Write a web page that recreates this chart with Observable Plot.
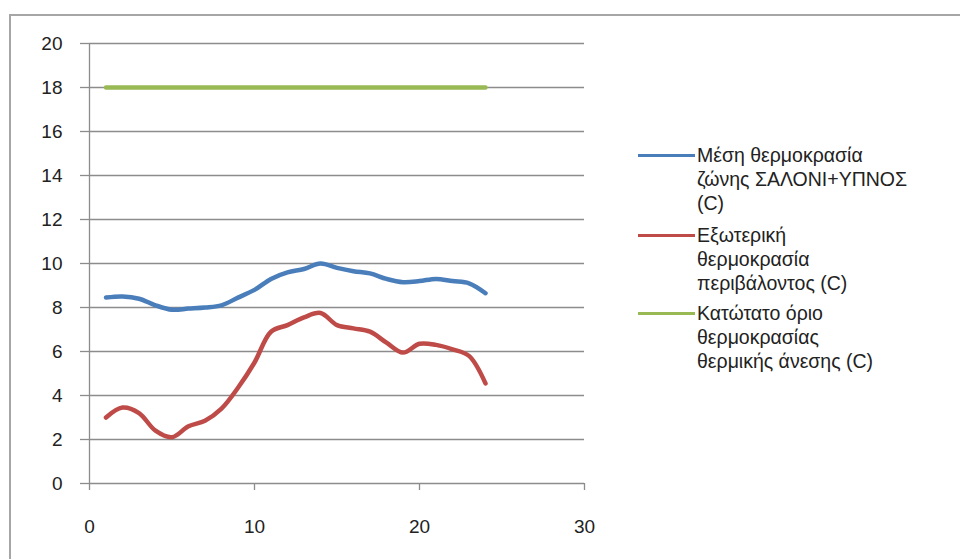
<!DOCTYPE html>
<html>
<head>
<meta charset="utf-8">
<script src="https://cdn.jsdelivr.net/npm/d3@7"></script>
<script src="https://cdn.jsdelivr.net/npm/@observablehq/plot@0.6"></script>
<style>
  html, body { margin: 0; padding: 0; background: #fff; }
  #wrap { position: relative; width: 960px; height: 559px; overflow: hidden; font-family: "Liberation Sans", sans-serif; }
  #frame { position: absolute; left: 9px; top: 14px; width: 980px; height: 600px;
           border-left: 2px solid #a6a6a6; border-top: 2px solid #a6a6a6; box-sizing: border-box; }
  #chart { position: absolute; left: 0; top: 0; }
  .legend-item { position: absolute; left: 638px; }
  .legend-item .swatch { position: absolute; left: 0; top: 11px; width: 57px; height: 3px; }
  .legend-item .label { position: absolute; left: 59px; top: 0; width: 300px;
                        font-size: 19.5px; line-height: 24px; color: #222; white-space: nowrap; }
</style>
</head>
<body>
<div id="wrap">
  <div id="frame"></div>
  <div id="chart"></div>
</div>
<script>
// Hour of the day
const hours = [1, 2, 3, 4, 5, 6, 7, 8, 9, 10, 11, 12, 13, 14, 15, 16, 17, 18, 19, 20, 21, 22, 23, 24];

// Average zone temperature, living room + bedroom (°C)
const zoneTemp = [8.45, 8.5, 8.4, 8.1, 7.9, 7.95, 8.0, 8.1, 8.45, 8.8, 9.3, 9.6,
                  9.75, 10.0, 9.8, 9.65, 9.55, 9.3, 9.15, 9.2, 9.3, 9.2, 9.1, 8.65];

// Outdoor ambient temperature (°C)
const outdoorTemp = [3.0, 3.45, 3.2, 2.4, 2.1, 2.6, 2.85, 3.4, 4.35, 5.5, 6.9, 7.2,
                     7.55, 7.75, 7.2, 7.05, 6.9, 6.4, 5.95, 6.35, 6.3, 6.1, 5.8, 4.55];

// Lower limit of thermal comfort (°C)
const comfortLimit = [18, 18, 18, 18, 18, 18, 18, 18, 18, 18, 18, 18,
                      18, 18, 18, 18, 18, 18, 18, 18, 18, 18, 18, 18];

const seriesNames = [
  ["Μέση θερμοκρασία", "ζώνης ΣΑΛΟΝΙ+ΥΠΝΟΣ", "(C)"],
  ["Εξωτερική", "θερμοκρασία", "περιβάλοντος (C)"],
  ["Κατώτατο όριο", "θερμοκρασίας", "θερμικής άνεσης (C)"]
];
const seriesColors = ["#4a7ebb", "#be4b48", "#98b954"];

const xTicks = [0, 10, 20, 30];
const yTicks = [0, 2, 4, 6, 8, 10, 12, 14, 16, 18, 20];

const rows = (vals, s) => hours.map((h, i) => ({hour: h, value: vals[i], series: s}));
const data = [
  ...rows(zoneTemp, 0),
  ...rows(outdoorTemp, 1),
  ...rows(comfortLimit, 2)
];

const gridColor = "#8c8c8c";
const textColor = "#222";

const chart = Plot.plot({
  width: 960,
  height: 559,
  marginLeft: 89,
  marginRight: 376,
  marginTop: 43,
  marginBottom: 76,
  style: {fontFamily: "Liberation Sans, sans-serif", fontSize: "19px", color: textColor, background: "transparent"},
  x: {domain: [0, 30], ticks: xTicks, label: null},
  y: {domain: [0, 20], ticks: yTicks, label: null},
  marks: [
    Plot.ruleY(yTicks, {stroke: gridColor, strokeWidth: 1.3, strokeOpacity: 1}),
    Plot.ruleX([0], {stroke: gridColor, strokeWidth: 1.3}),
    Plot.axisY({ticks: yTicks, tickSize: 9, tickPadding: 18, stroke: gridColor, strokeOpacity: 1,
                strokeWidth: 1.3, fill: textColor, fontSize: 19}),
    Plot.axisX({ticks: xTicks, tickSize: 7, tickPadding: 29, stroke: gridColor, strokeOpacity: 1,
                strokeWidth: 1.3, fill: textColor, fontSize: 19}),
    Plot.line(data, {
      x: "hour", y: "value", z: "series",
      stroke: d => seriesColors[d.series],
      strokeWidth: 4.5,
      curve: "catmull-rom"
    })
  ]
});
document.getElementById("chart").appendChild(chart);

// Legend on the right: a line swatch and a wrapped label per series
const legendTops = [143, 223, 301];
const wrap = document.getElementById("wrap");
seriesNames.forEach((lines, i) => {
  const item = document.createElement("div");
  item.className = "legend-item";
  item.style.top = legendTops[i] + "px";
  const sw = document.createElement("div");
  sw.className = "swatch";
  sw.style.background = seriesColors[i];
  const lab = document.createElement("div");
  lab.className = "label";
  lab.innerHTML = lines.join("<br>");
  item.appendChild(sw);
  item.appendChild(lab);
  wrap.appendChild(item);
});
</script>
</body>
</html>
